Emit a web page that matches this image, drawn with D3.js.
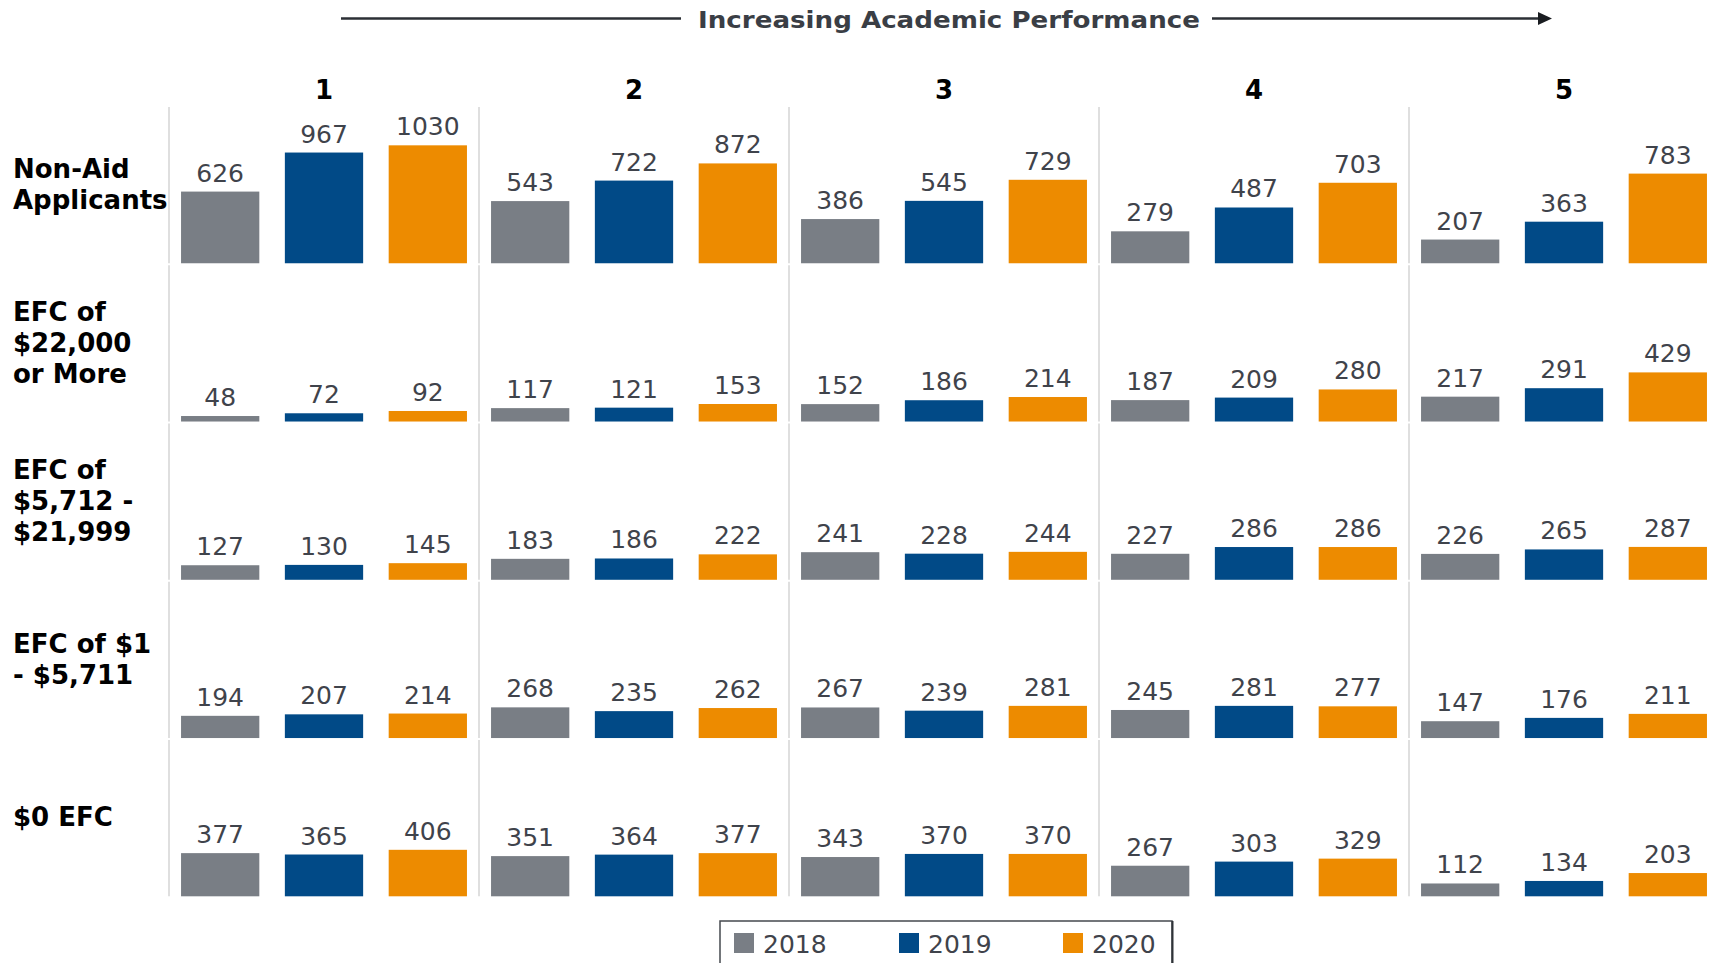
<!DOCTYPE html>
<html><head><meta charset="utf-8">
<script src="https://cdn.jsdelivr.net/npm/d3@7"></script>
<style>body{margin:0;background:#fff;} svg{display:block;}</style>
</head><body><svg id="chart" width="1717" height="963"></svg>
<script>
// ---- data ----
const groups = ["1","2","3","4","5"];
const years = ["2018","2019","2020"];
const rows = ["Non-Aid Applicants","EFC of $22,000 or More","EFC of $5,712 - $21,999","EFC of $1 - $5,711","$0 EFC"];
const rowLabelLines = [["Non-Aid","Applicants"],["EFC of","$22,000","or More"],["EFC of","$5,712 -","$21,999"],["EFC of $1","- $5,711"],["$0 EFC"]];
const values2018 = [[626,543,386,279,207],[48,117,152,187,217],[127,183,241,227,226],[194,268,267,245,147],[377,351,343,267,112]];
const values2019 = [[967,722,545,487,363],[72,121,186,209,291],[130,186,228,286,265],[207,235,239,281,176],[365,364,370,303,134]];
const values2020 = [[1030,872,729,703,783],[92,153,214,280,429],[145,222,244,286,287],[214,262,281,277,211],[406,377,370,329,203]];
const seriesValues = [values2018, values2019, values2020];
const colors = ["#797e85","#014a87","#ed8b00"];
const title = "Increasing Academic Performance";

// ---- layout ----
const svg = d3.select("#chart");
const x0 = d3.scaleBand().domain(groups).range([169, 169 + 5*310]);
const x1 = d3.scaleBand().domain(years).range([0, x0.bandwidth()]).paddingInner(0.246).paddingOuter(0.116);
const yRow = d3.scaleBand().domain(rows).range([105, 896.3]);
const h = d3.scaleLinear().domain([0, 1000]).range([0, 114.5]);
const color = d3.scaleOrdinal().domain(years).range(colors);

// title + arrow
svg.append("line").attr("x1",341).attr("x2",681).attr("y1",18.5).attr("y2",18.5).attr("stroke","#2b2f35").attr("stroke-width",2.5);
svg.append("line").attr("x1",1212).attr("x2",1542).attr("y1",18.5).attr("y2",18.5).attr("stroke","#2b2f35").attr("stroke-width",2.5);
svg.append("path").attr("d","M1538,12 L1552,18.5 L1538,25 Z").attr("fill","#1a1d21");
svg.append("text").attr("x",949).attr("y",27.5).attr("text-anchor","middle")
  .attr("font-family","DejaVu Sans").attr("font-weight","bold").attr("font-size",23)
  .attr("textLength",502).attr("lengthAdjust","spacingAndGlyphs")
  .attr("fill","#3a3e45").text(title);

// column headers
svg.selectAll(".colhead").data(groups).join("text").attr("class","colhead")
  .attr("x", d => x0(d) + x0.bandwidth()/2).attr("y", 99)
  .attr("text-anchor","middle").attr("font-family","DejaVu Sans").attr("font-weight","bold")
  .attr("font-size",26).attr("fill","#000").text(d => d);

rows.forEach((r, ri) => {
  const base = yRow(r) + yRow.bandwidth();
  // separators
  svg.selectAll(null).data(groups).join("line")
    .attr("x1", d => x0(d)).attr("x2", d => x0(d))
    .attr("y1", yRow(r) + 2).attr("y2", base)
    .attr("stroke","#d4d4d4").attr("stroke-width",1.5);
  // row label
  const lines = rowLabelLines[ri];
  const lbl = svg.append("text").attr("font-family","DejaVu Sans").attr("font-weight","bold")
    .attr("font-size",26).attr("fill","#000");
  lines.forEach((ln, li) => {
    lbl.append("tspan").attr("x", 13).attr("y", base - 70 + (li - (lines.length-1)/2)*31).text(ln);
  });
  // bars
  const data = [];
  groups.forEach((g, gi) => years.forEach((yr, yi) => data.push({g, yr, v: seriesValues[yi][ri][gi]})));
  svg.selectAll(null).data(data).join("rect")
    .attr("x", d => x0(d.g) + x1(d.yr)).attr("width", x1.bandwidth())
    .attr("y", d => base - h(d.v)).attr("height", d => h(d.v))
    .attr("fill", d => color(d.yr));
  svg.selectAll(null).data(data).join("text")
    .attr("x", d => x0(d.g) + x1(d.yr) + x1.bandwidth()/2)
    .attr("y", d => base - h(d.v) - 10)
    .attr("text-anchor","middle").attr("font-family","DejaVu Sans").attr("font-size",25)
    .attr("fill","#3f434b").text(d => d.v);
});

// legend
svg.append("rect").attr("x",720).attr("y",921).attr("width",452).attr("height",60)
  .attr("fill","#fff").attr("stroke","#45494f").attr("stroke-width",1.5);
svg.append("line").attr("x1",1172.5).attr("x2",1172.5).attr("y1",921).attr("y2",963).attr("stroke","#2f3338").attr("stroke-width",2);
const legX = [734, 899, 1063];
const lg = svg.selectAll(".leg").data(years).join("g").attr("class","leg")
  .attr("transform", (d,i) => `translate(${legX[i]},933)`);
lg.append("rect").attr("width",20).attr("height",20).attr("fill", d => color(d));
lg.append("text").attr("x",29).attr("y",20).attr("font-family","DejaVu Sans").attr("font-size",25)
  .attr("fill","#3f434b").text(d => d);
</script></body></html>
